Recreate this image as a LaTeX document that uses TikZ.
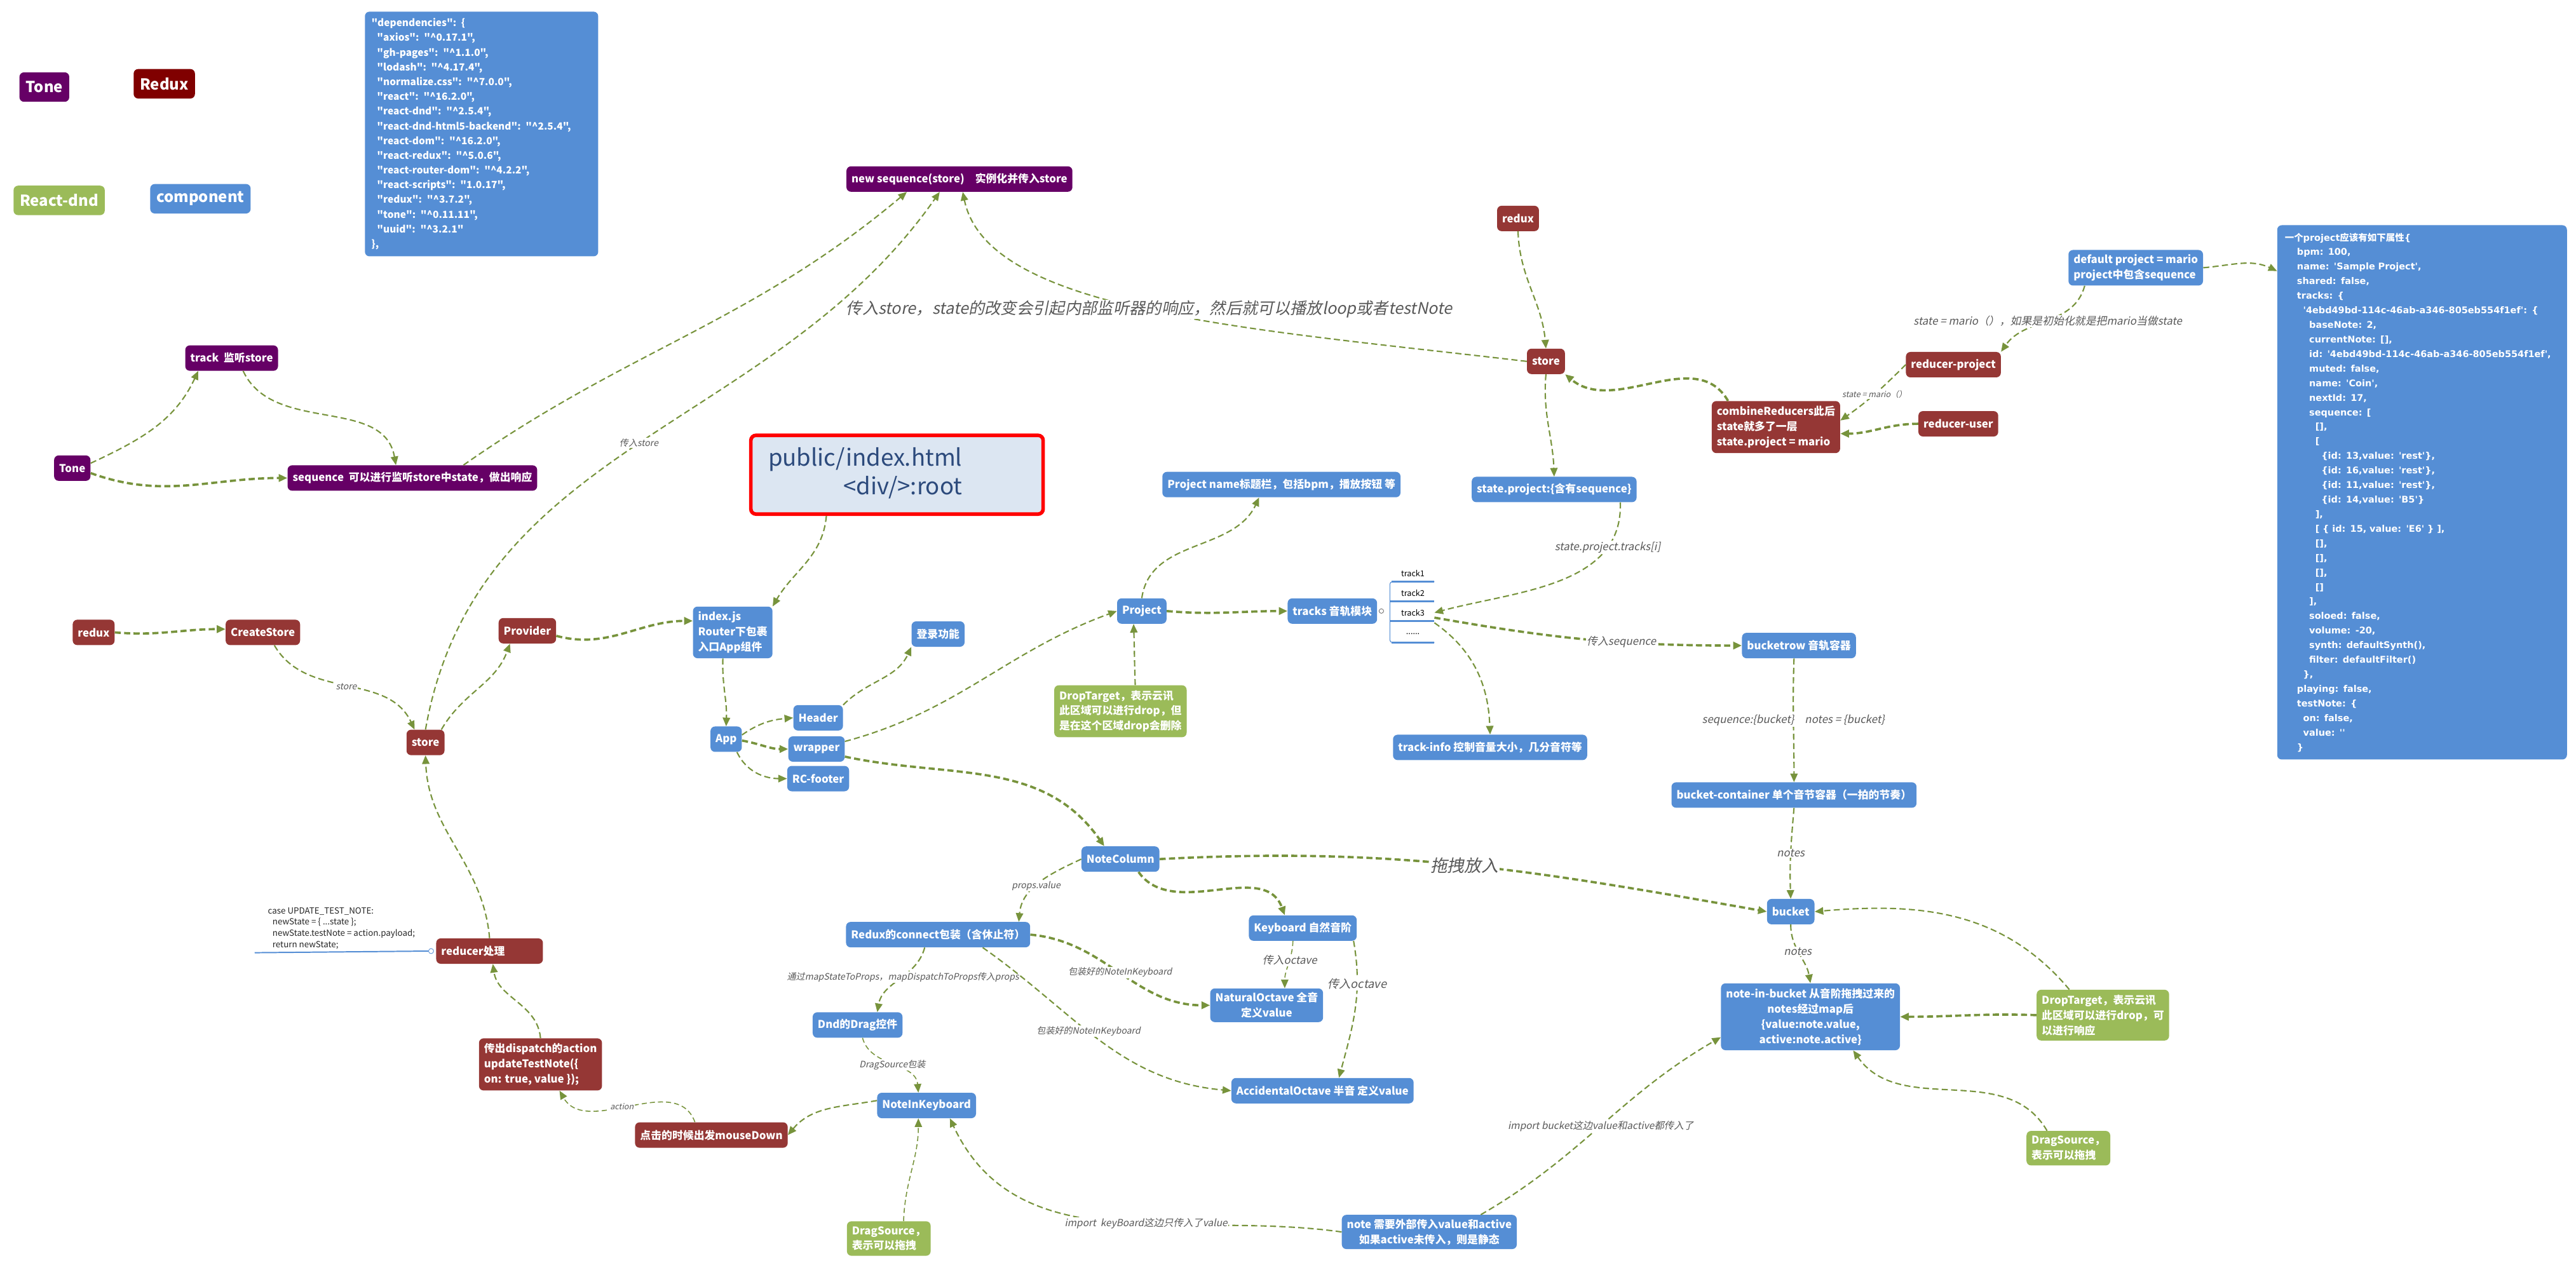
\documentclass[tikz,border=0pt]{standalone}
\usepackage{fontspec}
\setmainfont{Noto Sans CJK SC}[Ligatures=TeXOff]
\newfontfamily\lblfont{Noto Sans CJK SC}[FakeSlant=0.2, Ligatures=TeXOff]
\newfontfamily\jsonfont{DejaVu Sans}[Ligatures=TeXOff]
\usetikzlibrary{positioning,arrows.meta,calc}

\definecolor{compblue}{HTML}{558ED5}
\definecolor{reduxred}{HTML}{953735}
\definecolor{legendred}{HTML}{800000}
\definecolor{tonepurple}{HTML}{660066}
\definecolor{dndgreen}{HTML}{9BBB59}
\definecolor{linkgreen}{HTML}{77933C}
\definecolor{htmlfill}{HTML}{DCE6F2}
\definecolor{htmltext}{HTML}{2C4A7C}
\definecolor{lblgray}{HTML}{595959}
\definecolor{codetext}{HTML}{262626}

\newcommand{\boxfont}{\bfseries\fontsize{12}{17}\selectfont}
\newcommand{\jind}[1]{\hspace*{#1mm}}

\begin{document}
\begin{tikzpicture}[
  x=0.6464mm, y=-0.6464mm,
  box/.style={rounded corners=1.8mm, text=white, font=\boxfont, inner xsep=2mm, inner ysep=1.6mm, minimum height=10mm, align=center},
  cbox/.style={box, fill=compblue},
  rbox/.style={box, fill=reduxred},
  tbox/.style={box, fill=tonepurple},
  gbox/.style={box, fill=dndgreen, align=left, inner ysep=2mm},
  lgd/.style={box, font=\bfseries\fontsize{17}{20}\selectfont, minimum height=11.6mm, inner xsep=2.5mm},
  htmlbox/.style={draw=red, line width=4pt, fill=htmlfill, rounded corners=2mm, text=htmltext, font=\fontsize{26}{32}\selectfont, minimum width=115mm, minimum height=31mm, inner sep=0pt},
  lnk/.style={draw=linkgreen, line width=1.5pt, dash pattern=on 2.4mm off 1.3mm, -{Triangle[length=3.4mm,width=2.9mm]}},
  blnk/.style={lnk, line width=2.6pt},
  tlnk/.style={lnk, line width=1.1pt, dash pattern=on 2mm off 1.2mm},
  lbls/.style={font=\lblfont\fontsize{10}{12}\selectfont, text=lblgray, fill=white, inner sep=1pt},
  lblm/.style={lbls, font=\lblfont\fontsize{12}{14}\selectfont},
  lblb/.style={lbls, font=\lblfont\fontsize{18}{21}\selectfont},
  trk/.style={font=\fontsize{9}{10}\selectfont, minimum width=16.8mm, minimum height=6.5mm, inner sep=0pt},
  trkline/.style={draw=compblue, line width=2pt},
  codetxt/.style={font=\fontsize{9.5}{12.7}\selectfont, text=codetext, align=left, inner sep=0pt}
]
\useasboundingbox (0,0) rectangle (1568,773);

\node[lgd, fill=tonepurple] (lgtone) at (27,53) {Tone};
\node[lgd, fill=legendred] (lgredux) at (100,51) {Redux};
\node[lgd, fill=dndgreen] (lgdnd) at (36,122) {React-dnd};
\node[lgd, fill=compblue] (lgcomp) at (122,121) {component};

\node[cbox, anchor=north west, font=\bfseries\fontsize{11}{16.5}\selectfont, align=left, text width=86.6mm, inner xsep=2.6mm, inner ysep=2.6mm] (deps) at (222,7) {%
"dependencies": \{\\
\jind{2.2}"axios": "\textasciicircum 0.17.1",\\
\jind{2.2}"gh-pages": "\textasciicircum 1.1.0",\\
\jind{2.2}"lodash": "\textasciicircum 4.17.4",\\
\jind{2.2}"normalize.css": "\textasciicircum 7.0.0",\\
\jind{2.2}"react": "\textasciicircum 16.2.0",\\
\jind{2.2}"react-dnd": "\textasciicircum 2.5.4",\\
\jind{2.2}"react-dnd-html5-backend": "\textasciicircum 2.5.4",\\
\jind{2.2}"react-dom": "\textasciicircum 16.2.0",\\
\jind{2.2}"react-redux": "\textasciicircum 5.0.6",\\
\jind{2.2}"react-router-dom": "\textasciicircum 4.2.2",\\
\jind{2.2}"react-scripts": "1.0.17",\\
\jind{2.2}"redux": "\textasciicircum 3.7.2",\\
\jind{2.2}"tone": "\textasciicircum 0.11.11",\\
\jind{2.2}"uuid": "\textasciicircum 3.2.1"\\
\},};

\node[tbox] (newseq) at (584,109) {new sequence(store)\quad 实例化并传入store};
\node[tbox] (track) at (141,218) {track\ \ 监听store};
\node[tbox] (tone) at (44,285) {Tone};
\node[tbox] (seq) at (251,291) {sequence\ \ 可以进行监听store中state，做出响应};

\node[htmlbox] (public) at (546,289) {\begin{tabular}{@{}r@{}}public/index.html\\<div/>:root\end{tabular}\hspace*{25mm}};

\node[rbox] (reduxr) at (924,133) {redux};
\node[rbox] (rstore) at (941,220) {store};
\node[rbox, align=left, inner ysep=2mm] (combine) at (1081,260) {combineReducers此后\\state就多了一层\\state.project = mario};
\node[rbox] (rproj) at (1189,222) {reducer-project};
\node[rbox] (ruser) at (1192,258) {reducer-user};
\node[cbox, align=left, inner ysep=1.8mm] (defproj) at (1300,163) {default project = mario\\project中包含sequence};
\node[cbox] (stateproj) at (946,298) {state.project:\{含有sequence\}};

\node[cbox, anchor=north west, font=\jsonfont\bfseries\fontsize{10.3}{16.3}\selectfont, align=left, text width=108mm, inner xsep=3mm, inner ysep=3mm] (json) at (1386,137) {%
{\rmfamily 一个}project{\rmfamily 应该有如下属性}\{\\
\jind{4.8}bpm: 100,\\
\jind{4.8}name: 'Sample Project',\\
\jind{4.8}shared: false,\\
\jind{4.8}tracks: \{\\
\jind{7.2}'4ebd49bd-114c-46ab-a346-805eb554f1ef': \{\\
\jind{9.6}baseNote: 2,\\
\jind{9.6}currentNote: [],\\
\jind{9.6}id: '4ebd49bd-114c-46ab-a346-805eb554f1ef',\\
\jind{9.6}muted: false,\\
\jind{9.6}name: 'Coin',\\
\jind{9.6}nextId: 17,\\
\jind{9.6}sequence: [\\
\jind{12}[],\\
\jind{12}[\\
\jind{14.4}\{id: 13,value: 'rest'\},\\
\jind{14.4}\{id: 16,value: 'rest'\},\\
\jind{14.4}\{id: 11,value: 'rest'\},\\
\jind{14.4}\{id: 14,value: 'B5'\}\\
\jind{12}],\\
\jind{12}[ \{ id: 15, value: 'E6' \} ],\\
\jind{12}[],\\
\jind{12}[],\\
\jind{12}[],\\
\jind{12}[]\\
\jind{9.6}],\\
\jind{9.6}soloed: false,\\
\jind{9.6}volume: -20,\\
\jind{9.6}synth: defaultSynth(),\\
\jind{9.6}filter: defaultFilter()\\
\jind{7.2}\},\\
\jind{4.8}playing: false,\\
\jind{4.8}testNote: \{\\
\jind{7.2}on: false,\\
\jind{7.2}value: ''\\
\jind{4.8}\}};

\node[rbox] (lredux) at (57,385) {redux};
\node[rbox] (cstore) at (160,385) {CreateStore};
\node[rbox] (lstore) at (259,452) {store};
\node[rbox] (provider) at (321,384) {Provider};
\node[cbox, align=left, inner ysep=2mm] (indexjs) at (446,385) {index.js\\Router下包裹\\入口App组件};
\node[cbox] (app) at (442,450) {App};
\node[cbox] (header) at (498,437) {Header};
\node[cbox] (wrapper) at (497,456) {wrapper};
\node[cbox] (rcfooter) at (498,474) {RC-footer};
\node[cbox] (login) at (571,386) {登录功能};
\node[cbox] (project) at (695,372) {Project};
\node[cbox] (pname) at (780,295) {Project name标题栏，包括bpm，播放按钮 等};
\node[gbox] (dtP) at (682,433) {DropTarget，表示云讯\\此区域可以进行drop，但\\是在这个区域drop会删除};
\node[cbox] (tracks) at (811,372) {tracks 音轨模块};

\node[trk] (t1) at (860,349) {track1};
\node[trk] (t2) at (860,361) {track2};
\node[trk] (t3) at (860,373) {track3};
\node[trk] (t4) at (860,386) {......};
\coordinate (brk) at (846,372);

\node[cbox] (tinfo) at (907,455) {track-info 控制音量大小，几分音符等};
\node[cbox] (bucketrow) at (1095,393) {bucketrow 音轨容器};
\node[cbox] (bcont) at (1092,484) {bucket-container 单个音节容器（一拍的节奏）};
\node[cbox] (bucket) at (1090,555) {bucket};
\node[cbox, inner ysep=2mm] (nib) at (1102,619) {note-in-bucket 从音阶拖拽过来的\\notes经过map后\\\{value:note.value,\\active:note.active\}};
\node[gbox] (dtR) at (1280,618) {DropTarget，表示云讯\\此区域可以进行drop，可\\以进行响应};
\node[gbox] (dsR) at (1259,699) {DragSource，\\表示可以拖拽};

\node[cbox] (notecol) at (682,523) {NoteColumn};
\node[cbox] (reduxconn) at (571,569) {Redux的connect包装（含休止符）};
\node[cbox] (keyboard) at (793,565) {Keyboard 自然音阶};
\node[cbox] (natural) at (771,612) {NaturalOctave 全音\\定义value};
\node[cbox] (accidental) at (805,664) {AccidentalOctave 半音 定义value};
\node[cbox] (dnddrag) at (522,624) {Dnd的Drag控件};
\node[cbox] (nik) at (564,673) {NoteInKeyboard};
\node[gbox] (dsB) at (541,754) {DragSource，\\表示可以拖拽};
\node[cbox] (note) at (870,750) {note 需要外部传入value和active\\如果active未传入，则是静态};

\node[rbox] (mdown) at (433,691) {点击的时候出发mouseDown};
\node[rbox, align=left, inner ysep=2mm] (dispatch) at (329,648) {传出dispatch的action\\updateTestNote(\{\\on: true, value \});};
\node[rbox, text width=38mm, align=left] (reducer) at (298,579) {reducer处理};
\node[codetxt, anchor=south west] (code) at (163,578) {case UPDATE\_TEST\_NOTE:\\\hspace*{1.8mm}newState = \{ ...state \};\\\hspace*{1.8mm}newState.testNote = action.payload;\\\hspace*{1.8mm}return newState;};

\draw[draw=compblue, line width=1.4pt] ($(code.south west)+(-8,2)$) -- ($(reducer.west)+(-4.5,0)$);
\draw[draw=compblue, line width=0.6pt, fill=white] ($(reducer.west)+(-3,0)$) circle (1mm);

\draw[trkline, line width=0.8pt, rounded corners=1mm] (t1.south east) -- (t1.south west -| brk) -- (t4.south west -| brk) -- (t4.south east);
\draw[trkline] (t1.south west) -- (t1.south east);
\draw[trkline] (t2.south west -| brk) -- (t2.south east);
\draw[trkline] (t3.south west -| brk) -- (t3.south east);
\draw[trkline] (t4.south west) -- (t4.south east);
\draw[draw=lblgray, line width=0.5pt, fill=white] ($(tracks.east)+(2.5,0)$) circle (0.9mm);

\draw[lnk] (tone.15) to[out=25,in=-115] ($(track.south west)+(8,0)$);
\draw[blnk] (tone.-15) to[out=-20,in=180] (seq.west);
\draw[lnk] ($(track.south)+(7,0)$) to[out=-65,in=100] ($(seq.north)+(-10,0)$);
\draw[lnk] ($(seq.north east)+(-45,0)$) to[out=35,in=-140] ($(newseq.south)+(-32,0)$);
\draw[lnk] (lstore.north) to[out=80,in=-125] node[lbls,pos=0.5]{传入store} ($(newseq.south)+(-12,0)$);
\draw[lnk] (rstore.west) .. controls +(-170,-20) and +(15,73) .. node[lblb,pos=0.5]{传入store，state的改变会引起内部监听器的响应，然后就可以播放loop或者testNote} ($(newseq.south)+(2,0)$);

\draw[lnk] (reduxr.south) to[out=-88,in=95] (rstore.north);
\draw[blnk] ($(combine.north west)+(10,0)$) to[out=120,in=-40] (rstore.south east);
\draw[lnk] (rproj.west) to[out=-135,in=35] node[lbls,pos=0.5,font=\lblfont\fontsize{9}{11}\selectfont]{state = mario（）} ($(combine.east)+(0,-4)$);
\draw[blnk] (ruser.west) to[out=180,in=0] ($(combine.east)+(0,4)$);
\draw[lnk] ($(defproj.south west)+(10,0)$) to[out=-105,in=55] node[lblm,pos=0.5]{state = mario（），如果是初始化就是把mario当做state} (rproj.north east);
\draw[lnk] (defproj.east) to[out=5,in=155] ($(json.north west)+(0,28)$);
\draw[lnk] (rstore.south) to[out=-95,in=92] (stateproj.north);
\draw[lnk] ($(stateproj.south east)+(-10,0)$) to[out=-88,in=15] node[lblm,pos=0.22]{state.project.tracks[i]} (t3.east);

\draw[blnk] ($(t3.east)+(0,3)$) to[out=-10,in=180] node[lblm,pos=0.62]{传入sequence} (bucketrow.west);
\draw[lnk] ($(t3.south east)+(0,1)$) to[out=-35,in=92] (tinfo.north);
\draw[lnk] ($(bucketrow.south)+(-3,0)$) to[out=-92,in=90] node[lblm,pos=0.5]{sequence:\{bucket\}\quad notes = \{bucket\}} (bcont.north);
\draw[lnk] (bcont.south) to[out=-95,in=92] node[lblm,pos=0.5]{notes} (bucket.north);
\draw[lnk] (bucket.south) to[out=-90,in=100] node[lblm,pos=0.45]{notes} (nib.north);
\draw[lnk] ($(dtR.north west)+(20,0)$) to[out=130,in=5] (bucket.east);
\draw[blnk] (dtR.west) to[out=178,in=0] (nib.east);
\draw[lnk] ($(dsR.north)+(-13,0)$) to[out=120,in=-55] ($(nib.south)+(26,0)$);
\draw[blnk] (notecol.east) to[out=3,in=170] node[lblb,pos=0.5,font=\lblfont\fontsize{19}{22}\selectfont]{拖拽放入} (bucket.west);
\draw[lnk] ($(note.north east)+(-22,0)$) to[out=30,in=-150] node[lblm,pos=0.5,font=\lblfont\fontsize{11}{13}\selectfont]{import bucket这边value和active都传入了} ($(nib.south west)+(0,-8)$);
\draw[lnk] (note.west) to[out=172,in=-65] node[lblm,pos=0.42,font=\lblfont\fontsize{11}{13}\selectfont]{import\ \ keyBoard这边只传入了value} ($(nik.south east)+(-16,0)$);
\draw[tlnk] ($(dsB.north)+(9,0)$) to[out=88,in=-90] ($(nik.south)+(-5,0)$);
\draw[lnk] ($(nik.west)+(0,-3)$) to[out=190,in=50] (mdown.east);
\draw[tlnk] ($(mdown.north)+(-10,0)$) to[out=110,in=-60] node[lbls,pos=0.55,font=\lblfont\fontsize{9}{11}\selectfont]{action} ($(dispatch.south east)+(-26,0)$);
\draw[lnk] (dispatch.north) to[out=95,in=-82] ($(reducer.south)+(2,0)$);
\draw[lnk] (reducer.north) to[out=95,in=-88] (lstore.south);

\draw[blnk] (lredux.east) to[out=-5,in=180] ($(cstore.west)+(0,-2)$);
\draw[lnk] ($(cstore.south)+(7,0)$) to[out=-60,in=115] node[lbls,pos=0.5]{store} ($(lstore.north west)+(5,0)$);
\draw[lnk] ($(lstore.north east)+(-2,0)$) to[out=60,in=-110] ($(provider.south west)+(7,0)$);
\draw[blnk] (provider.-10) to[out=-15,in=180] ($(indexjs.west)+(0,-7)$);
\draw[lnk] ($(public.south)+(-43,0)$) to[out=-95,in=60] (indexjs.north east);
\draw[lnk] ($(indexjs.south)+(-6,0)$) to[out=-92,in=88] (app.north);
\draw[lnk] (app.15) to[out=35,in=185] (header.west);
\draw[blnk] (app.-5) to[out=-10,in=180] (wrapper.west);
\draw[lnk] (app.-50) to[out=-65,in=180] (rcfooter.west);
\draw[lnk] (header.north east) to[out=45,in=-115] (login.south west);
\draw[lnk] (wrapper.15) to[out=15,in=200] (project.west);
\draw[blnk] (wrapper.-15) to[out=-12,in=125] ($(notecol.north west)+(14,0)$);
\draw[lnk] (project.north) to[out=82,in=-115] ($(pname.south west)+(59,0)$);
\draw[blnk] (project.east) to[out=-5,in=180] (tracks.west);
\draw[lnk] ($(dtP.north)+(9,0)$) to[out=92,in=-88] ($(project.south)+(-5,0)$);

\draw[lnk] (notecol.west) to[out=205,in=85] node[lbls,pos=0.55]{props.value} ($(reduxconn.north east)+(-7,0)$);
\draw[blnk] ($(notecol.south)+(11,0)$) to[out=-55,in=110] ($(keyboard.north)+(-11,0)$);
\draw[lnk] ($(reduxconn.south west)+(48,0)$) to[out=-105,in=80] node[lbls,pos=0.45]{通过mapStateToProps，mapDispatchToProps传入props} ($(dnddrag.north)+(12,0)$);
\draw[blnk] (reduxconn.east) to[out=-5,in=180] node[lbls,pos=0.5]{包装好的NoteInKeyboard} (natural.west);
\draw[lnk] ($(reduxconn.south east)+(-29,0)$) to[out=-35,in=175] node[lbls,pos=0.45]{包装好的NoteInKeyboard} (accidental.west);
\draw[tlnk] ($(keyboard.south)+(-6,0)$) to[out=-92,in=90] node[lblm,pos=0.4]{传入octave} ($(natural.north)+(11,0)$);
\draw[lnk] ($(keyboard.south east)+(-2,0)$) to[out=-80,in=75] node[lblm,pos=0.3,font=\lblfont\fontsize{13}{15}\selectfont]{传入octave} ($(accidental.north)+(10,0)$);
\draw[tlnk] ($(dnddrag.south)+(3,0)$) to[out=-75,in=95] node[lbls,pos=0.5]{DragSource包装} ($(nik.north)+(-5,0)$);
\end{tikzpicture}
\end{document}
